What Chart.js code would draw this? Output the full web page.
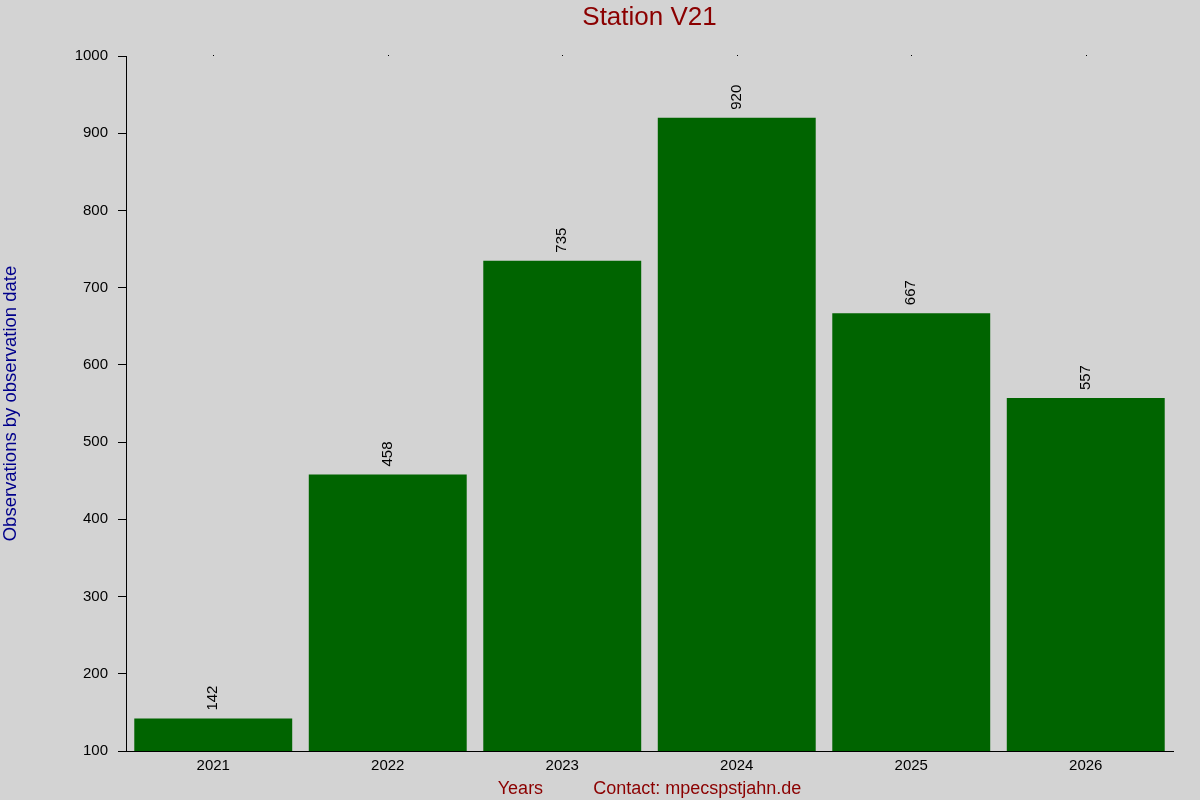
<!DOCTYPE html>
<html>
<head>
<meta charset="utf-8">
<script src="https://cdn.jsdelivr.net/npm/chart.js@4"></script>
<style>
html,body{margin:0;padding:0;background:#d3d3d3;}
#wrap{width:1200px;height:800px;}
</style>
</head>
<body>
<div id="wrap"><canvas id="c" width="1200" height="800"></canvas></div>
<script>
const years = ["2021","2022","2023","2024","2025","2026"];
const observations = [142, 458, 735, 920, 667, 557];
const yTicksMin = 100;
const yTicksMax = 1000;
const yStep = 100;
const chartTitle = 'Station V21';

const FONT = "'Liberation Sans', Arial, Helvetica, sans-serif";

const bgPlugin = {
  id: 'bg',
  beforeDraw(chart) {
    const ctx = chart.ctx;
    ctx.save();
    ctx.fillStyle = '#d3d3d3';
    ctx.fillRect(0, 0, chart.width, chart.height);
    ctx.restore();
  }
};

const labelPlugin = {
  id: 'valueLabels',
  afterDatasetsDraw(chart) {
    const ctx = chart.ctx;
    const meta = chart.getDatasetMeta(0);
    const xs = chart.scales.x;
    const area = chart.chartArea;
    ctx.save();
    ctx.font = '15px ' + FONT;
    ctx.fillStyle = '#000000';
    meta.data.forEach((bar, i) => {
      ctx.save();
      ctx.translate(bar.x, bar.y - 8);
      ctx.rotate(-Math.PI / 2);
      ctx.textAlign = 'left';
      ctx.textBaseline = 'middle';
      ctx.fillText(String(observations[i]), 0, 0);
      ctx.restore();
    });
    // small dots at top of plot area at each category
    years.forEach((y, i) => {
      const px = Math.round(xs.getPixelForValue(i));
      ctx.fillRect(px, area.top - 1, 1, 1);
    });
    // title centred over plot area
    ctx.font = '26px ' + FONT;
    ctx.fillStyle = '#8b0000';
    ctx.textAlign = 'center';
    ctx.textBaseline = 'middle';
    ctx.fillText(chartTitle, (area.left + area.right) / 2, 18);
    ctx.restore();
  }
};

new Chart(document.getElementById('c'), {
  type: 'bar',
  data: {
    labels: years,
    datasets: [{
      data: observations,
      backgroundColor: '#006400',
      borderWidth: 0,
      barPercentage: 0.905,
      categoryPercentage: 1.0
    }]
  },
  options: {
    responsive: false,
    animation: false,
    devicePixelRatio: 1,
    layout: { padding: { left: 0, right: 27, top: 56, bottom: 0 } },
    plugins: {
      legend: { display: false },
      tooltip: { enabled: false },
      title: { display: false }
    },
    scales: {
      x: {
        grid: { display: false, drawTicks: false },
        border: { display: true, color: '#000000', width: 1 },
        ticks: { color: '#000000', font: { family: FONT, size: 15 }, padding: 6 },
        title: {
          display: true,
          text: 'Years          Contact: mpecspstjahn.de',
          color: '#8b0000',
          font: { family: FONT, size: 18 },
          padding: { top: 2, bottom: 0 }
        },
        afterFit(scale) { scale.height = 49; }
      },
      y: {
        min: yTicksMin,
        max: yTicksMax,
        grid: { display: true, drawOnChartArea: false, drawTicks: true, tickLength: 8, color: '#000000' },
        border: { display: true, color: '#000000', width: 1 },
        ticks: {
          stepSize: yStep,
          color: '#000000',
          font: { family: FONT, size: 15 },
          padding: 10,
          callback: (v) => String(v)
        },
        title: {
          display: true,
          text: 'Observations by observation date',
          color: '#00008b',
          font: { family: FONT, size: 18.5 },
          padding: { top: 0, bottom: 0 }
        },
        afterFit(scale) { scale.width = 126; }
      }
    }
  },
  plugins: [bgPlugin, labelPlugin]
});
</script>
</body>
</html>
